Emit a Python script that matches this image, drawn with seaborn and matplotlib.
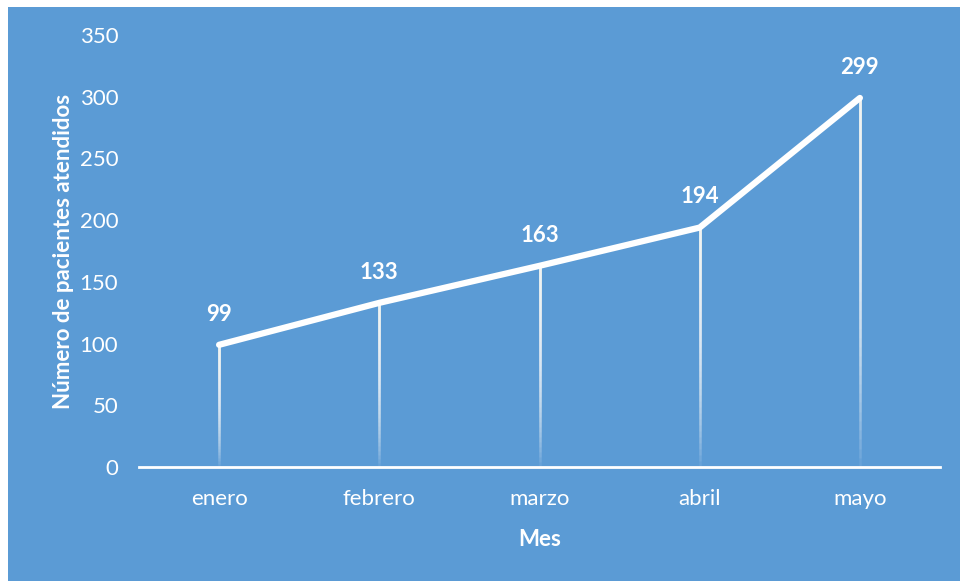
import matplotlib
matplotlib.use("Agg")
import matplotlib.pyplot as plt
import numpy as np
import pandas as pd
import seaborn as sns

meses = ["enero", "febrero", "marzo", "abril", "mayo"]
pacientes = [99, 133, 163, 194, 299]
y_ticks = [0, 50, 100, 150, 200, 250, 300, 350]

bg = "#5B9BD5"

sns.set_theme(style="white")
plt.rcParams["font.family"] = ["Lato", "DejaVu Sans"]

df = pd.DataFrame({"Mes": meses, "Pacientes": pacientes})

fig = plt.figure(figsize=(9.6, 5.81), dpi=100)
fig.patch.set_facecolor("white")
# blue panel (small white margin top/left like the reference)
panel = plt.Rectangle((8 / 960, 0), 1, 1 - 7 / 581, transform=fig.transFigure,
                      facecolor=bg, edgecolor="none", zorder=-10)
fig.add_artist(panel)
ax = fig.add_axes([139 / 960, 1 - 467 / 581, 801 / 960, 432 / 581])
ax.set_facecolor("none")

# fading drop lines: stacked translucent lines, more opaque near the point
x_pos = np.arange(len(meses))
n = 40
for xi, yi in zip(x_pos, pacientes):
    for k in range(1, n + 1):
        ax.vlines(xi, yi * (1 - k / n), yi, color="white", alpha=0.075,
                  linewidth=1.8, zorder=2)

sns.lineplot(data=df, x="Mes", y="Pacientes", sort=False, color="white",
             linewidth=4.5, ax=ax, zorder=3, solid_capstyle="round",
             solid_joinstyle="round")

for xi, yi in zip(x_pos, pacientes):
    ax.annotate(str(yi), (xi, yi), xytext=(0, 22), textcoords="offset points",
                ha="center", va="center", color="white", fontsize=16,
                fontweight="bold")

ax.set_xlim(-0.5, len(meses) - 0.5)
ax.set_ylim(0, 350)
ax.set_yticks(y_ticks)
ax.set_xticks(x_pos)
ax.set_xticklabels(meses)

for s in ["top", "right", "left"]:
    ax.spines[s].set_visible(False)
ax.spines["bottom"].set_color("white")
ax.spines["bottom"].set_linewidth(2)
ax.spines["bottom"].set_zorder(4)

ax.tick_params(axis="y", colors="white", labelsize=16, length=0, pad=15)
ax.tick_params(axis="x", colors="white", labelsize=16, length=0, pad=16)

ax.set_xlabel("Mes", color="white", fontsize=16, fontweight="bold", labelpad=14)
ax.set_ylabel("Número de pacientes atendidos", color="white", fontsize=16,
              fontweight="bold", labelpad=4)

fig.savefig("out.png", dpi=100, facecolor=fig.get_facecolor())
